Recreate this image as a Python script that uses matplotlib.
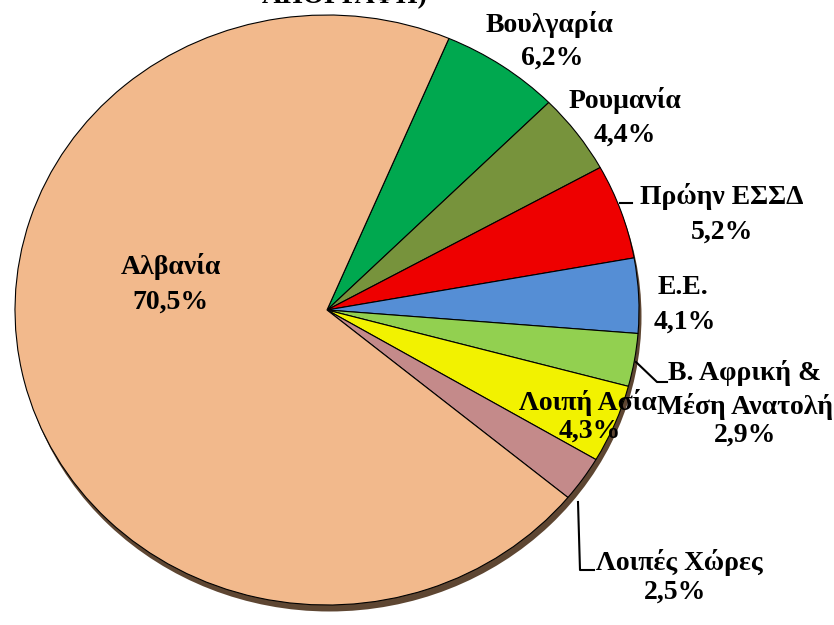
import matplotlib
matplotlib.use('Agg')
import matplotlib.pyplot as plt
from matplotlib.patches import Ellipse

plt.rcParams['font.family'] = ['Liberation Serif', 'DejaVu Serif']

# data: clockwise from the top
labels = ['Βουλγαρία', 'Ρουμανία', 'Πρώην ΕΣΣΔ', 'Ε.Ε.', 'Β. Αφρική &\nΜέση Ανατολή',
          'Λοιπή Ασία', 'Λοιπές Χώρες', 'Αλβανία']
values = [6.2, 4.4, 5.2, 4.1, 2.9, 4.3, 2.5, 70.5]
colors = ['#00A84F', '#77933C', '#EE0000', '#558ED5', '#92D050', '#F2F200', '#C48A8A', '#F2B98C']

W, H = 834, 625
cx, cy = 327, 310      # pie centre, pixels from top-left
rx, ry = 312, 295      # radii in pixels (slightly tilted pie)

fig = plt.figure(figsize=(W / 100, H / 100), dpi=100)
ax = fig.add_axes([0, 0, 1, 1])

# shadow under the pie
ax.add_patch(Ellipse((0.008, -0.022), 2.0, 2.0, facecolor='#5E4632', edgecolor='none', zorder=0))

ax.pie(values, colors=colors, startangle=67, counterclock=False, radius=1.0,
       wedgeprops=dict(edgecolor='black', linewidth=0.8))

ax.set_aspect('auto')
ax.set_xlim(-cx / rx, (W - cx) / rx)
ax.set_ylim(-(H - cy) / ry, cy / ry)
ax.axis('off')


def px(x, y):
    return x / W, 1 - y / H


fs = 20
tk = dict(ha='center', va='center', fontsize=fs, fontweight='bold', color='black')

# label positions in pixels (name, percent)
fig.text(*px(171, 266), 'Αλβανία', **tk)
fig.text(*px(170, 302), '70,5%', **tk)
fig.text(*px(549, 25), 'Βουλγαρία', **tk)
fig.text(*px(552, 58), '6,2%', **tk)
fig.text(*px(625, 100), 'Ρουμανία', **tk)
fig.text(*px(625, 135), '4,4%', **tk)
fig.text(*px(722, 197), 'Πρώην ΕΣΣΔ', **tk)
fig.text(*px(722, 232), '5,2%', **tk)
fig.text(*px(683, 287), 'Ε.Ε.', **tk)
fig.text(*px(685, 322), '4,1%', **tk)
fig.text(*px(745, 373), 'Β. Αφρική &', **tk)
fig.text(*px(745, 406), 'Μέση Ανατολή', **tk)
fig.text(*px(745, 435), '2,9%', **tk)
fig.text(*px(588, 402), 'Λοιπή Ασία', **tk)
fig.text(*px(590, 431), '4,3%', **tk)
fig.text(*px(679, 562), 'Λοιπές Χώρες', **tk)
fig.text(*px(675, 592), '2,5%', **tk)

# cut-off title at the top
fig.text(*px(345, 9), 'ΑΠΟΓΡΑΦΗ)', ha='center', va='bottom', fontsize=fs, fontweight='bold')

# leader lines
for xs, ys in [([620, 632], [203, 203]),
               ([636, 657, 667], [362, 382, 382]),
               ([578, 580, 594], [502, 570, 570])]:
    fx = [x / W for x in xs]
    fy = [1 - y / H for y in ys]
    fig.add_artist(plt.Line2D(fx, fy, color='black', linewidth=1.5))

fig.savefig('out.png', dpi=100)
